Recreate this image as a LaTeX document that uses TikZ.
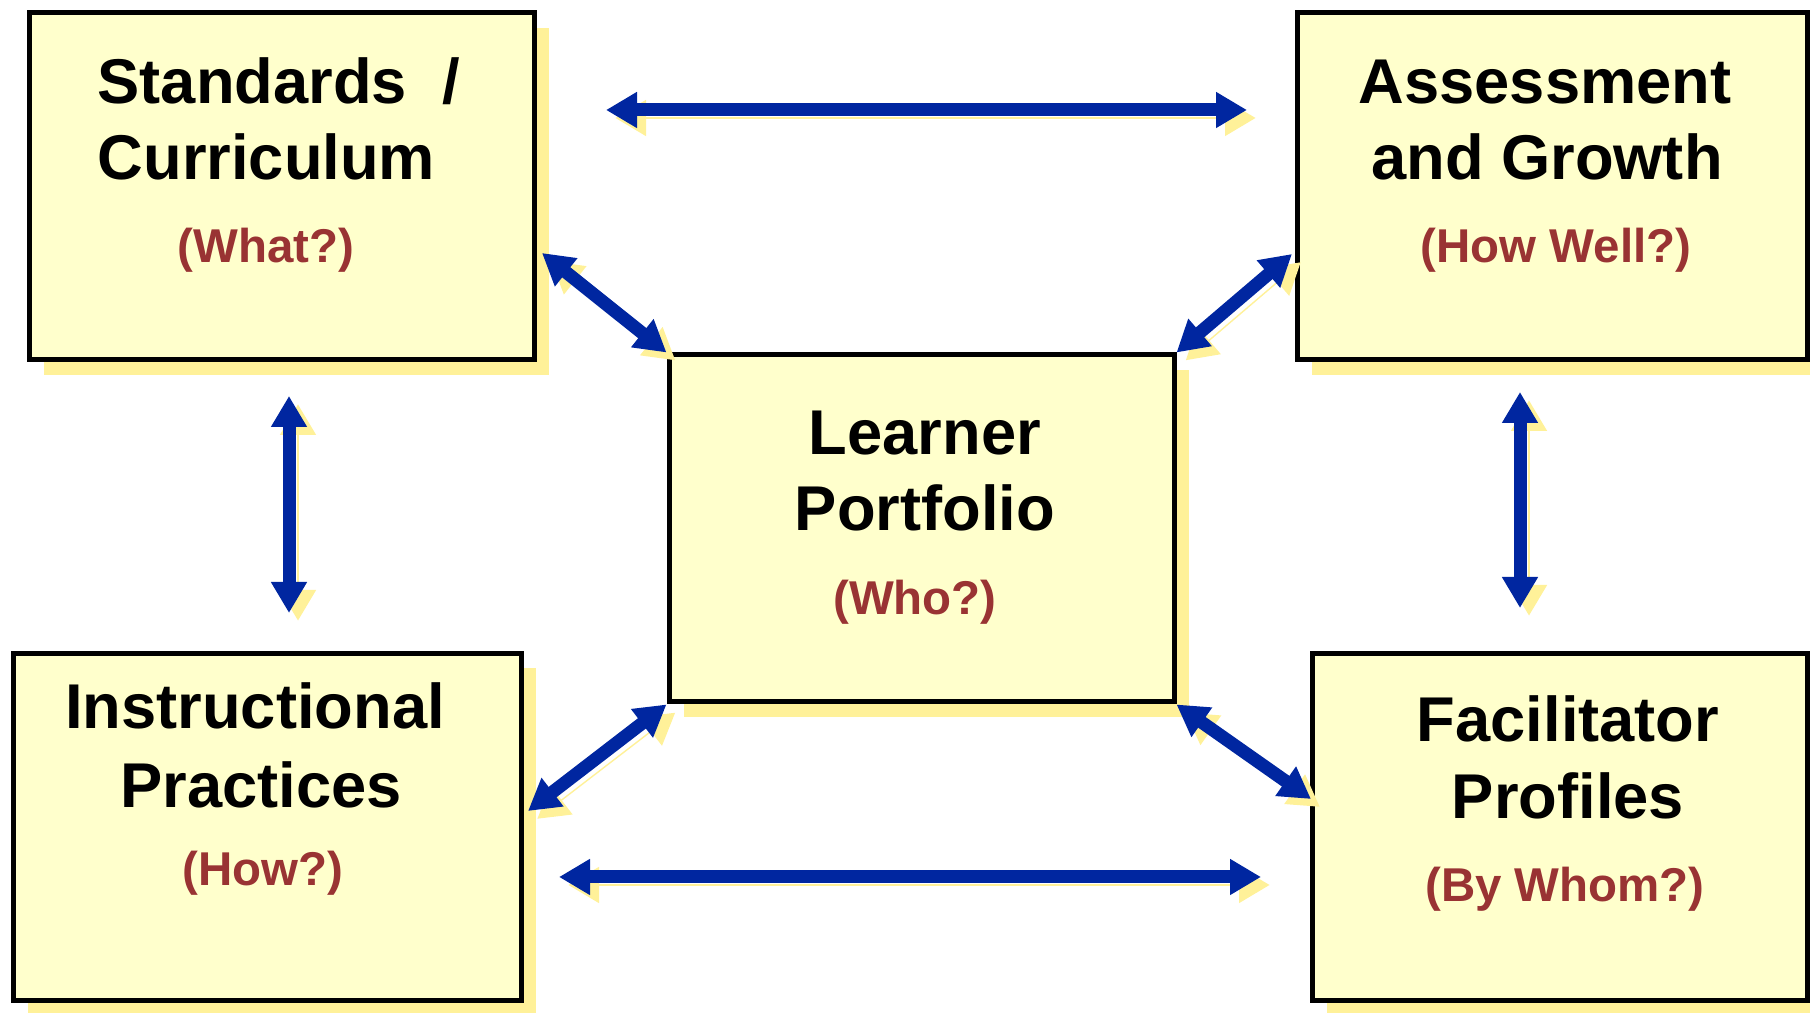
\documentclass[tikz,border=0pt]{standalone}
\usepackage{fontspec}
\setmainfont{Liberation Sans}
\usepackage{xcolor}
\usetikzlibrary{arrows.meta,shadows}

\definecolor{boxfill}{HTML}{FFFFCC}
\definecolor{boxshade}{HTML}{FFF199}
\definecolor{qred}{HTML}{993333}
\definecolor{arrblue}{HTML}{0026A0}

\tikzset{
	box/.style={draw=black, line width=0.5mm, fill=boxfill, minimum width=#1, minimum height=34.7mm,
		drop shadow={shadow xshift=1.5mm, shadow yshift=-1.5mm, fill=boxshade, opacity=1}},
	title/.style={font=\fontsize{18}{22}\selectfont\bfseries, anchor=base, inner sep=0pt},
	quest/.style={font=\fontsize{13.5}{16}\selectfont\bfseries, text=qred, anchor=base, inner sep=0pt},
	link/.style={draw=arrblue, line width=1.3mm,
		{Triangle[length=3.1mm,width=3.4mm]}-{Triangle[length=3.1mm,width=3.4mm]},
		preaction={draw=boxshade, transform canvas={shift={(0.9mm,-0.8mm)}}}}
}

\begin{document}
\begin{tikzpicture}[x=0.1mm,y=-0.1mm]
		\useasboundingbox (0,0) rectangle (1810,1013);
		% boxes
		\node[box=50.5mm] (S) at (281.5,186.5) {};
		\node[box=51mm] (A) at (1552,186.5) {};
		\node[box=50.5mm] (L) at (921.5,528.5) {};
		\node[box=50.8mm] (I) at (267,827) {};
		\node[box=49.5mm] (F) at (1559.5,827) {};
		%
		\node[title, anchor=base west] (S1) at (97,104) {Standards\ \ /};
		\node[title, anchor=base west] (S2) at (97,180) {Curriculum};
		\node[quest] (S3) at (266,263) {(What?)};
		\node[title] (A1) at (1545,104) {Assessment};
		\node[title] (A2) at (1547,180) {and Growth};
		\node[quest] (A3) at (1556,263) {(How Well?)};
		\node[title] (L1) at (925,455) {Learner};
		\node[title] (L2) at (925,531) {Portfolio};
		\node[quest] (L3) at (915,615) {(Who?)};
		\node[title] (I1) at (255,729) {Instructional};
		\node[title] (I2) at (261,808) {Practices};
		\node[quest] (I3) at (263,886) {(How?)};
		\node[title] (F1) at (1568,742) {Facilitator};
		\node[title] (F2) at (1568,819) {Profiles};
		\node[quest] (F3) at (1565,902) {(By Whom?)};
		%
		\coordinate (SA) at (606,110);
		\coordinate (AS) at (1247,110);
		\coordinate (IF) at (559,877);
		\coordinate (FI) at (1261,877);
		\coordinate (SI) at (289,396);
		\coordinate (IS) at (289,613);
		\coordinate (AF) at (1520,392);
		\coordinate (FA) at (1520,608);
		\coordinate (SL) at (542,253);
		\coordinate (AL) at (1292,254);
		\coordinate (IL) at (528,811);
		\coordinate (FL) at (1311,799);
		%
		\path[every edge/.style=link]
		% horizontal arrows
		(SA) edge (AS)
		(IF) edge (FI)
		% vertical arrows
		(SI) edge (IS)
		(AF) edge (FA)
		% diagonal arrows
		(SL) edge (L.north west)
		(AL) edge (L.north east)
		(IL) edge (L.south west)
		(FL) edge (L.south east);
\end{tikzpicture}
\end{document}
